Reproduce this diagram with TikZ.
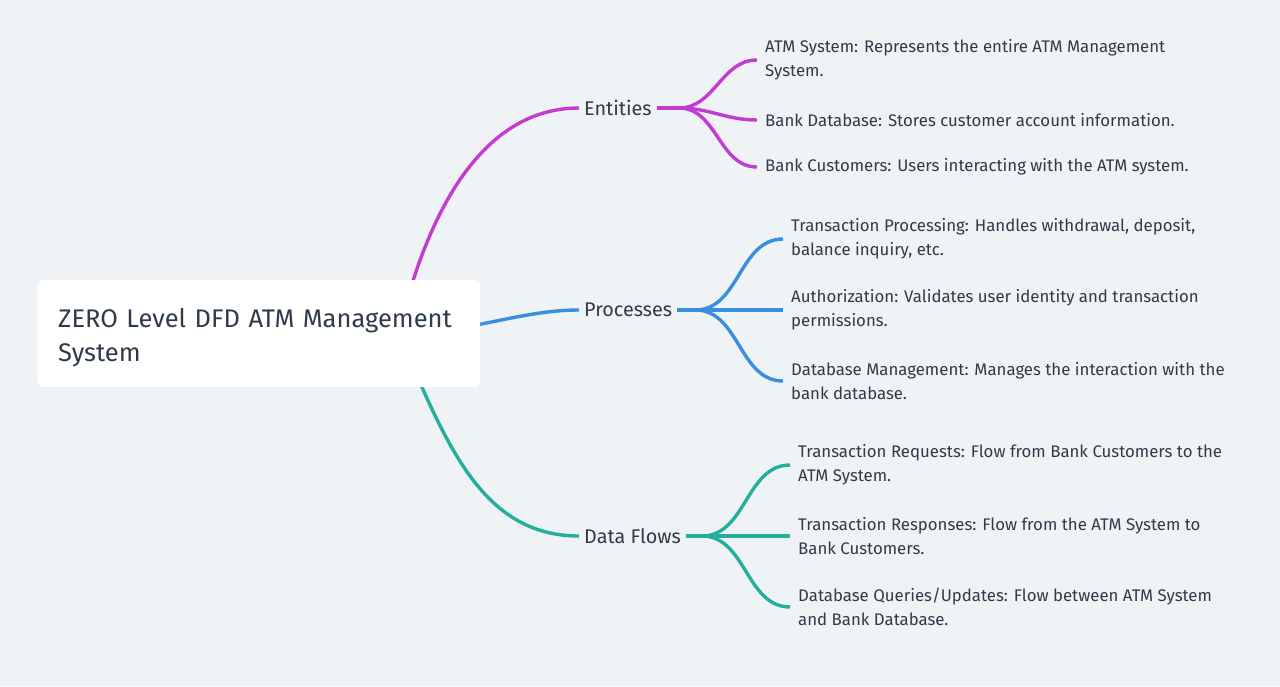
\documentclass[tikz,border=0pt]{standalone}
\usepackage{fontspec}
\setmainfont{Fira Sans}
\usetikzlibrary{positioning}

\definecolor{bgcol}{HTML}{EFF3F6}
\definecolor{txtcol}{HTML}{2F3B4A}
\definecolor{entcol}{HTML}{C43BD2}
\definecolor{proccol}{HTML}{3A8EE0}
\definecolor{flowcol}{HTML}{22B09D}

\pgfdeclarelayer{bg}
\pgfdeclarelayer{edges}
\pgfsetlayers{bg,edges,main}

\begin{document}
\begin{tikzpicture}[
                x = 1pt, y = 1pt, % one unit per pixel
                line cap = round, % round ends on the branches
                semithick % line style
            ]

            \tikzstyle{every node}=[text = txtcol, inner sep = 0pt, anchor = west]
            \tikzstyle{topic}=[font = \fontsize{19.8}{23}\selectfont, inner xsep = 5pt]
            \tikzstyle{leaf}=[font = \fontsize{16.8}{24}\selectfont, align = left,
            inner xsep = 8pt]
            \tikzstyle{branch}=[line width = 3.4pt]

            \begin{pgfonlayer}{bg}
                \fill[bgcol] (0,0) rectangle (1280,-686);
            \end{pgfonlayer}
            \useasboundingbox (0,0) rectangle (1280,-686);

            % root box
            \node (root) [fill = white, rounded corners = 6pt, anchor = north west,
            minimum width = 443, minimum height = 107, inner xsep = 21pt,
            text width = 401pt, align = left,
            font = \fontsize{25.5}{34}\selectfont] at (37,-280)
            {\rule{0pt}{27pt}ZERO Level DFD ATM Management\\System};
            \coordinate (hub) at ([xshift=140pt]root.center);

            % topics
            \node (ent) [topic] at (579,-108) {Entities};
            \node (proc) [topic] at (579,-310) {Processes};
            \node (flow) [topic] at (579,-536) {Data Flows};

            \coordinate [right = 22pt of ent] (entfork);
            \coordinate [right = 18pt of proc] (procfork);
            \coordinate [right = 16pt of flow] (flowfork);

            % leaves
            \node (e1) [leaf] at (757,-60) {ATM System: Represents the entire ATM Management\\System.};
            \node (e2) [leaf] at (757,-120) {Bank Database: Stores customer account information.};
            \node (e3) [leaf] at (757,-167) {Bank Customers: Users interacting with the ATM system.};

            \node (p1) [leaf] at (783,-239) {Transaction Processing: Handles withdrawal, deposit,\\balance inquiry, etc.};
            \node (p2) [leaf] at (783,-310) {Authorization: Validates user identity and transaction\\permissions.};
            \node (p3) [leaf] at (783,-381) {Database Management: Manages the interaction with the\\bank database.};

            \node (f1) [leaf] at (790,-465) {Transaction Requests: Flow from Bank Customers to the\\ATM System.};
            \node (f2) [leaf] at (790,-536) {Transaction Responses: Flow from the ATM System to\\Bank Customers.};
            \node (f3) [leaf] at (790,-607) {Database Queries/Updates: Flow between ATM System\\and Bank Database.};

            \begin{pgfonlayer}{edges}
                \draw[branch, entcol] (hub) .. controls (420,-240) and (470,-108) .. (ent.west);
                \draw[branch, proccol] (hub) .. controls (470,-333) and (520,-310) .. (proc.west);
                \draw[branch, flowcol] (hub) .. controls (445,-440) and (480,-536) .. (flow.west);

                \draw[branch, entcol] (ent.east) -- (entfork);
                \path[branch, entcol] (entfork) edge[out=0, in=180] (e1.west)
                edge[out=0, in=180] (e2.west) edge[out=0, in=180] (e3.west);

                \draw[branch, proccol] (proc.east) -- (procfork);
                \path[branch, proccol] (procfork) edge[out=0, in=180] (p1.west)
                edge (p2.west) edge[out=0, in=180] (p3.west);

                \draw[branch, flowcol] (flow.east) -- (flowfork);
                \path[branch, flowcol] (flowfork) edge[out=0, in=180] (f1.west)
                edge (f2.west) edge[out=0, in=180] (f3.west);
            \end{pgfonlayer}

        \end{tikzpicture}
\end{document}
